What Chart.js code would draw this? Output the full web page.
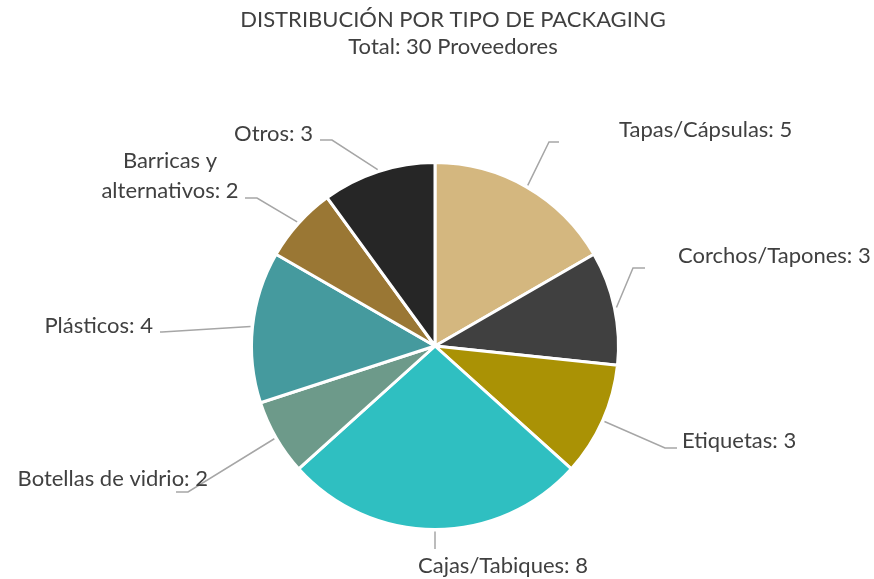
<!DOCTYPE html>
<html>
<head>
<meta charset="utf-8">
<script src="https://cdn.jsdelivr.net/npm/chart.js@4.4.0/dist/chart.umd.min.js"></script>
<style>
	body { margin: 0; background: #fff; }
	#wrap { width: 874px; height: 579px; }
</style>
</head>
<body>
<div id="wrap"><canvas id="mycanvas" width="874" height="579"></canvas></div>
<script>
var titleText = "DISTRIBUCIÓN POR TIPO DE PACKAGING";
var subtitleText = "Total: 30 Proveedores";
var categories = ["Tapas/Cápsulas", "Corchos/Tapones", "Etiquetas", "Cajas/Tabiques", "Botellas de vidrio", "Plásticos", "Barricas y alternativos", "Otros"];
var values = [5, 3, 3, 8, 2, 4, 2, 3];
var colors = ["#D4B77F", "#404040", "#AA9205", "#2FBFC1", "#6D9A8A", "#459A9E", "#9A7734", "#262626"];

// label placement: text lines, anchor x, y (first line), align, elbow x, elbow y, line end x
var labelLayout = [
	{ lines: ["Tapas/Cápsulas: 5"], x: 619, y: 130, align: "left", ex: 549, ey: 142, end: 559 },
	{ lines: ["Corchos/Tapones: 3"], x: 678, y: 256, align: "left", ex: 633, ey: 268, end: 645 },
	{ lines: ["Etiquetas: 3"], x: 682, y: 441, align: "left", ex: 665, ey: 448, end: 677 },
	{ lines: ["Cajas/Tabiques: 8"], x: 503, y: 566, align: "center", ex: 435, ey: 549, end: 435 },
	{ lines: ["Botellas de vidrio: 2"], x: 208, y: 479, align: "right", ex: 188, ey: 492, end: 176 },
	{ lines: ["Plásticos: 4"], x: 153, y: 326, align: "right", ex: 162, ey: 332, end: 160 },
	{ lines: ["Barricas y", "alternativos: 2"], x: 170, y: 161, align: "center", ex: 257, ey: 198, end: 245 },
	{ lines: ["Otros: 3"], x: 313, y: 134, align: "right", ex: 332, ey: 140, end: 320 }
];

var labelPlugin = {
	id: "leaderLabels",
	afterDraw: function(chart) {
		var ctx = chart.ctx;
		var meta = chart.getDatasetMeta(0);
		ctx.save();
		// title
		ctx.fillStyle = "#404040";
		ctx.textAlign = "center";
		ctx.textBaseline = "middle";
		ctx.font = "22px Lato";
		ctx.fillText(titleText, 453, 20);
		ctx.fillText(subtitleText, 453, 47);

		for (var i in meta.data) {
			var arc = meta.data[i];
			var p = labelLayout[i];
			var mid = (arc.startAngle + arc.endAngle) / 2;
			var r = arc.outerRadius + 2;
			var sx = arc.x + Math.cos(mid) * r;
			var sy = arc.y + Math.sin(mid) * r;

			ctx.strokeStyle = "#A6A6A6";
			ctx.lineWidth = 1.5;
			ctx.beginPath();
			ctx.moveTo(sx, sy);
			ctx.lineTo(p.ex, p.ey);
			ctx.lineTo(p.end, p.ey);
			ctx.stroke();

			ctx.fillStyle = "#404040";
			ctx.font = "22px Lato";
			ctx.textAlign = p.align;
			for (var j = 0; j < p.lines.length; j++) {
				ctx.fillText(p.lines[j], p.x, p.y + j * 30);
			}
		}
		ctx.restore();
	}
};

var ctx = document.getElementById("mycanvas");

var pieChart = new Chart(ctx, {
	type: "pie",
	data: {
		labels: categories,
		datasets: [{
			data: values,
			backgroundColor: colors,
			borderColor: "#ffffff",
			borderWidth: 3,
			hoverOffset: 0
		}]
	},
	options: {
		responsive: false,
		animation: false,
		layout: {
			padding: { top: 161, bottom: 48, left: 250, right: 254 }
		},
		plugins: {
			legend: { display: false },
			tooltip: { enabled: false }
		}
	},
	plugins: [labelPlugin]
});
</script>
</body>
</html>
